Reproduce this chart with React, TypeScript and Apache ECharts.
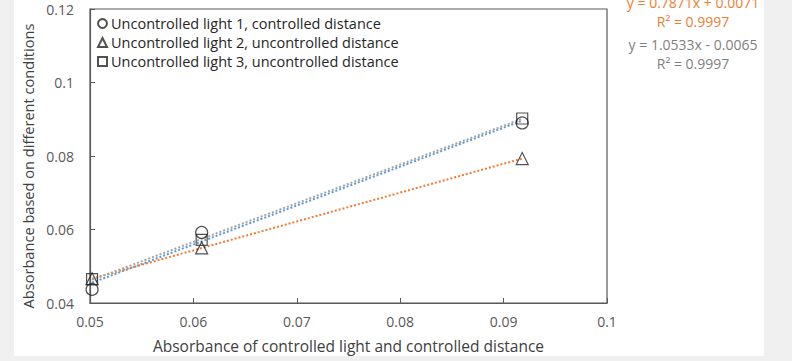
import React, { useEffect, useRef } from "react";
import * as echarts from "echarts";

const xValues = [0.0502, 0.0608, 0.0918];
const seriesNames = [
  "Uncontrolled light 1, controlled distance",
  "Uncontrolled light 2, uncontrolled distance",
  "Uncontrolled light 3, uncontrolled distance",
];
const light1 = [0.0437, 0.0592, 0.089];
const light2 = [0.0466, 0.055, 0.0793];
const light3 = [0.0465, 0.0572, 0.0902];
const symbols = ["circle", "triangle", "rect"];
const trendColors = ["#5B9BD5", "#ED7D31", "#A5A5A5"];
const xTicks = { min: 0.05, max: 0.1, interval: 0.01 };
const yTicks = { min: 0.04, max: 0.12, interval: 0.02 };
const xTitle = "Absorbance of controlled light and controlled distance";
const yTitle = "Absorbance based on different conditions";
const equations = [
  { text: "y = 0.7871x + 0.0071", r2: "R² = 0.9997", color: "#ED7D31" },
  { text: "y = 1.0533x - 0.0065", r2: "R² = 0.9997", color: "#7F7F7F" },
];

function fit(xs: number[], ys: number[]) {
  const n = xs.length;
  const mx = xs.reduce((a, b) => a + b, 0) / n;
  const my = ys.reduce((a, b) => a + b, 0) / n;
  let sxy = 0;
  let sxx = 0;
  for (let i = 0; i < n; i++) {
    sxy += (xs[i] - mx) * (ys[i] - my);
    sxx += (xs[i] - mx) * (xs[i] - mx);
  }
  const m = sxy / sxx;
  return { m, b: my - m * mx };
}

const FONT = "Open Sans";

export default function App() {
  const ref = useRef<HTMLDivElement>(null);
  useEffect(() => {
    if (!ref.current) return;
    const chart = echarts.init(ref.current, undefined, { renderer: "svg" });
    const all = [light1, light2, light3];
    const xmin = Math.min(...xValues);
    const xmax = Math.max(...xValues);
    const trendSeries = all.map((ys, i) => {
      const { m, b } = fit(xValues, ys);
      return {
        type: "line",
        name: "trend" + i,
        data: [
          [xmin, m * xmin + b],
          [xmax, m * xmax + b],
        ],
        symbol: "none",
        silent: true,
        lineStyle: { color: trendColors[i], width: 2, type: [2, 2] },
        z: 2,
      };
    });
    const scatterSeries = all.map((ys, i) => ({
      type: "scatter",
      name: seriesNames[i],
      data: xValues.map((x, j) => [x, ys[j]]),
      symbol: symbols[i],
      symbolSize: i === 2 ? 11 : 12,
      itemStyle: { color: "rgba(0,0,0,0)", borderColor: "#262626", borderWidth: 1.2 },
      z: 3,
    }));
    const graphics: any[] = [
      { type: "rect", shape: { x: 0, y: 0, width: 14, height: 361 }, style: { fill: "#f0f0f0" }, silent: true },
      { type: "rect", shape: { x: 764, y: 0, width: 28, height: 361 }, style: { fill: "#f0f0f0" }, silent: true },
      { type: "rect", shape: { x: 0, y: 356, width: 792, height: 5 }, style: { fill: "#f0f0f0" }, silent: true },
      {
        type: "text",
        x: 28,
        y: 166,
        rotation: Math.PI / 2,
        style: { text: yTitle, fill: "#404040", font: `14.6px "${FONT}"`, textAlign: "center", textVerticalAlign: "middle" },
      },
    ];
    equations.forEach((e, i) => {
      graphics.push({
        type: "text",
        x: 693,
        y: 2 + i * 42,
        style: { text: e.text, fill: e.color, font: `14px "${FONT}"`, textAlign: "center", textVerticalAlign: "middle" },
      });
      graphics.push({
        type: "text",
        x: 693,
        y: 21 + i * 42,
        style: { text: e.r2, fill: e.color, font: `14px "${FONT}"`, textAlign: "center", textVerticalAlign: "middle" },
      });
    });
    chart.setOption({
      animation: false,
      backgroundColor: "#ffffff",
      textStyle: { fontFamily: FONT },
      grid: { left: 90, right: 185, top: 9, bottom: 58, show: true, borderColor: "#595959", borderWidth: 1.2, backgroundColor: "transparent" },
      legend: {
        data: seriesNames.map((n, i) => ({ name: n, icon: symbols[i] })),
        orient: "vertical",
        left: 92,
        top: 11,
        itemWidth: 9,
        itemHeight: 9,
        itemGap: 4,
        textStyle: { fontSize: 14.5, color: "#262626", fontFamily: FONT, padding: [0, 0, 0, -1] },
        selectedMode: false,
      },
      xAxis: {
        type: "value",
        min: xTicks.min,
        max: xTicks.max,
        interval: xTicks.interval,
        name: xTitle,
        nameLocation: "middle",
        nameGap: 35,
        nameTextStyle: { fontSize: 15.5, color: "#404040", fontFamily: FONT },
        axisLine: { lineStyle: { color: "#595959", width: 1.2 } },
        axisTick: { inside: true, length: 5, lineStyle: { color: "#595959" } },
        axisLabel: { fontSize: 14, color: "#595959", margin: 11 },
        splitLine: { show: false },
      },
      yAxis: {
        type: "value",
        min: yTicks.min,
        max: yTicks.max,
        interval: yTicks.interval,
        axisLine: { show: true, lineStyle: { color: "#595959", width: 1.2 } },
        axisTick: { show: true, inside: true, length: 5, lineStyle: { color: "#595959" } },
        axisLabel: { fontSize: 14, color: "#595959", margin: 16 },
        splitLine: { show: false },
      },
      graphic: graphics,
      series: [...trendSeries, ...scatterSeries],
    });
    return () => chart.dispose();
  }, []);
  return (
    <div
      ref={ref}
      style={{ position: "fixed", left: 0, top: 0, width: 792, height: 361, background: "#fff" }}
    />
  );
}
